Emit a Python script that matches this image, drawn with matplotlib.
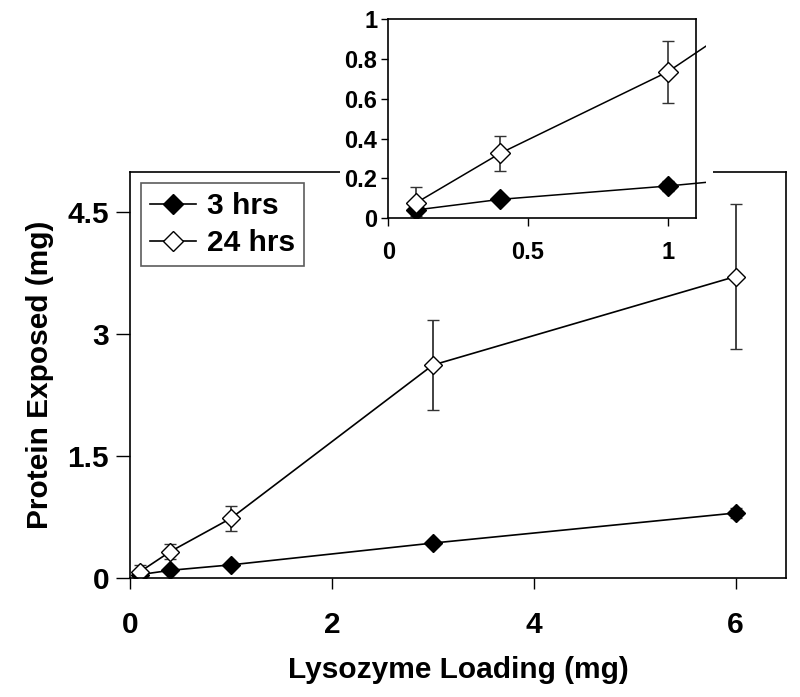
import matplotlib.pyplot as plt
from matplotlib.patches import Rectangle
from matplotlib.lines import Line2D

plt.rcParams['font.family'] = ['Liberation Sans', 'DejaVu Sans']
plt.rcParams['font.weight'] = 'bold'

# Данные
loading = [0.1, 0.4, 1, 3, 6]
exposed_3h = [0.042, 0.095, 0.162, 0.43, 0.80]
err_3h = [0.03, 0.01, 0.025, 0.03, 0.06]
exposed_24h = [0.078, 0.326, 0.735, 2.62, 3.71]
err_24h = [0.08, 0.087, 0.155, 0.55, 0.89]

fig = plt.figure(figsize=(8, 6.97), dpi=100)

# Основной график
ax = fig.add_axes([0.1625, 0.1707, 0.82, 0.583])
ax.errorbar(loading, exposed_3h, yerr=err_3h, color='black', ecolor='#333333',
            marker='D', markersize=9.5, mfc='black', mec='black', lw=1.2,
            elinewidth=1.3, capsize=4.5)
ax.errorbar(loading, exposed_24h, yerr=err_24h, color='black', ecolor='#333333',
            marker='D', markersize=9.5, mfc='white', mec='black', lw=1.2,
            elinewidth=1.3, capsize=4.5)
ax.set_xlim(0, 6.5)
ax.set_ylim(0, 5)
ax.set_xticks([0, 2, 4, 6])
ax.set_yticks([0, 1.5, 3, 4.5])
ax.set_yticklabels(['0', '1.5', '3', '4.5'])
ax.tick_params(axis='y', direction='out', length=10, width=1, labelsize=21.5, pad=5)
ax.tick_params(axis='x', direction='out', length=8, width=1, labelsize=21.5, pad=16)
ax.set_xlabel('Lysozyme Loading (mg)', fontsize=21.5, fontweight='bold', labelpad=12)
ax.set_ylabel('Protein Exposed (mg)', fontsize=21.5, fontweight='bold', labelpad=10)
for s in ax.spines.values():
    s.set_linewidth(1.2)

# Легенда без усов
handles = [Line2D([], [], color='black', lw=1.2, marker='D', markersize=10,
                  mfc='black', mec='black'),
           Line2D([], [], color='black', lw=1.2, marker='D', markersize=10,
                  mfc='white', mec='black')]
leg = ax.legend(handles, ['3 hrs', '24 hrs'], loc='upper left',
                bbox_to_anchor=(0.017, 0.972), borderaxespad=0, fontsize=21.5,
                frameon=True, fancybox=False, edgecolor='#333333',
                handlelength=1.55, borderpad=0.3, labelspacing=0.3, handletextpad=0.35)
leg.get_frame().set_linewidth(1.2)

# Белая подложка под вставкой
fig.patches.append(Rectangle((0.425, 0.634), 0.466, 0.366, transform=fig.transFigure,
                             facecolor='white', edgecolor='none', zorder=2))

# Вставка
axi = fig.add_axes([0.4854, 0.6868, 0.3842, 0.2859], zorder=3)
clip = Rectangle((0, 0), 1.035, 1, transform=axi.transAxes)
l1 = axi.errorbar(loading, exposed_3h, yerr=err_3h, color='black', ecolor='#333333',
                  marker='D', markersize=10, mfc='black', mec='black', lw=1.1,
                  elinewidth=1.2, capsize=4.5)
l2 = axi.errorbar(loading, exposed_24h, yerr=err_24h, color='black', ecolor='#333333',
                  marker='D', markersize=10, mfc='white', mec='black', lw=1.1,
                  elinewidth=1.2, capsize=4.5)
for cont in (l1, l2):
    cont.lines[0].set_clip_path(clip)
axi.set_xlim(0, 1.1)
axi.set_ylim(0, 1)
axi.set_xticks([0, 0.5, 1])
axi.set_xticklabels(['0', '0.5', '1'])
axi.set_yticks([0, 0.2, 0.4, 0.6, 0.8, 1])
axi.set_yticklabels(['0', '0.2', '0.4', '0.6', '0.8', '1'])
axi.tick_params(axis='y', direction='out', length=5, width=1, labelsize=17, pad=3)
axi.tick_params(axis='x', direction='out', length=6, width=1, labelsize=17, pad=10)
for s in axi.spines.values():
    s.set_linewidth(1.2)

fig.savefig('out.png', dpi=100)
